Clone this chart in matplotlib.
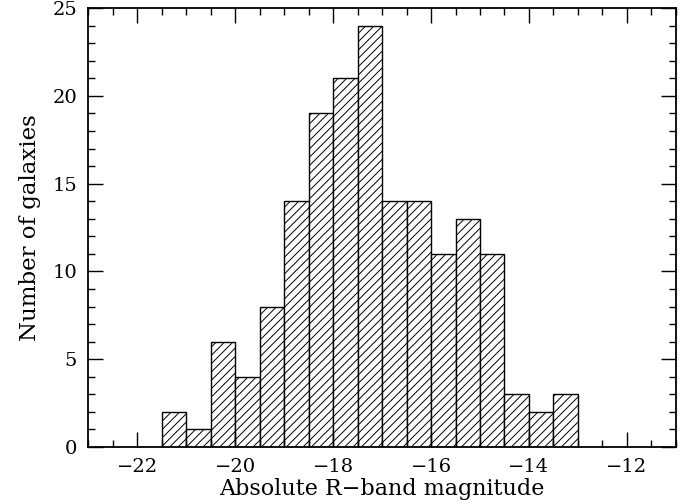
import numpy as np
import matplotlib
matplotlib.use("Agg")
import matplotlib.pyplot as plt
from matplotlib.ticker import MultipleLocator

# histogram of absolute R-band magnitudes, 0.5 mag bins
bin_left = [-21.5, -21.0, -20.5, -20.0, -19.5, -19.0, -18.5, -18.0, -17.5,
            -17.0, -16.5, -16.0, -15.5, -15.0, -14.5, -14.0, -13.5]
counts = [2, 1, 6, 4, 8, 14, 19, 21, 24, 14, 14, 11, 13, 11, 3, 2, 3]
bin_width = 0.5

plt.rcParams["font.family"] = "DejaVu Serif"
plt.rcParams["hatch.linewidth"] = 0.7

fig = plt.figure(figsize=(6.89, 5.04), dpi=100)
ax = fig.add_axes([0.128, 0.113, 0.853, 0.871])

ax.bar(bin_left, counts, width=bin_width, align="edge",
       facecolor="white", edgecolor="black", linewidth=1.0, hatch="////")

ax.set_xlim(-23, -11)
ax.set_ylim(0, 25)
ax.xaxis.set_major_locator(MultipleLocator(2))
ax.xaxis.set_minor_locator(MultipleLocator(0.5))
ax.yaxis.set_major_locator(MultipleLocator(5))
ax.yaxis.set_minor_locator(MultipleLocator(1))
ax.tick_params(which="both", direction="in", top=True, right=True,
               labelsize=14, width=1.0, pad=8)
ax.tick_params(which="major", length=11)
ax.tick_params(which="minor", length=5)
for s in ax.spines.values():
    s.set_linewidth(1.3)

ax.set_xlabel("Absolute R\u2212band magnitude", fontsize=16, labelpad=1)
ax.set_ylabel("Number of galaxies", fontsize=16.5, labelpad=8)

fig.savefig("out.png", dpi=100)
